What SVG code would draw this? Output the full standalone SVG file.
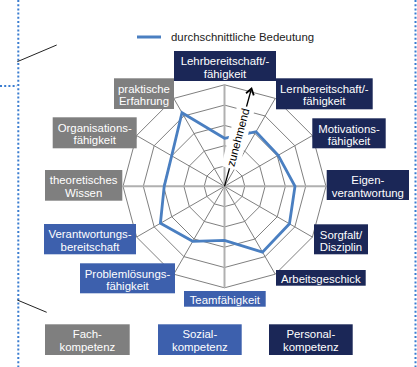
<svg xmlns="http://www.w3.org/2000/svg" width="417" height="367" viewBox="0 0 417 367">
<defs>
<style>
text{font-family:"Liberation Sans",Arial,sans-serif;font-size:11.4px;fill:#fff;text-anchor:middle}
.navy{fill:#1b2757}
.blue{fill:#3d60ad}
.gray{fill:#7f7f7f}
.ring{fill:none;stroke:#808080;stroke-width:1}
.spoke{stroke:#808080;stroke-width:1}
.axis{stroke:#b0b0b0;stroke-width:2}
.dot{stroke:#3b7dd0;stroke-width:2;stroke-dasharray:2 2.2;fill:none}
.thin{stroke:#222;stroke-width:1}
</style>
<marker id="ah" markerWidth="10" markerHeight="10" refX="7" refY="5" orient="auto" markerUnits="userSpaceOnUse">
<path d="M1,1 L7,5 L1,9" fill="none" stroke="#000" stroke-width="1.8"/>
</marker>
</defs>
<rect width="417" height="367" fill="#fff"/>
<g id="frame">
<line class="dot" x1="18.3" y1="0" x2="18.3" y2="367"/>
<line class="dot" x1="0" y1="86" x2="17" y2="86"/>
<line class="dot" x1="415.5" y1="0" x2="415.5" y2="367"/>
<line class="thin" x1="17.3" y1="61.7" x2="56.7" y2="45"/>
<line class="thin" x1="17.3" y1="300" x2="46.7" y2="312.3"/>
</g>
<g id="legend">
<line x1="137" y1="37" x2="161" y2="37" stroke="#4a7fc1" stroke-width="3"/>
<text x="171" y="40.5" style="fill:#222;text-anchor:start">durchschnittliche Bedeutung</text>
</g>
<g id="grid" transform="translate(224.5,186.3)">
<line class="spoke" x1="0" y1="0" x2="50.75" y2="-87.9"/>
<line class="spoke" x1="0" y1="0" x2="87.9" y2="-50.75"/>
<line class="spoke" x1="0" y1="0" x2="87.9" y2="50.75"/>
<line class="spoke" x1="0" y1="0" x2="50.75" y2="87.9"/>
<line class="spoke" x1="0" y1="0" x2="-50.75" y2="87.9"/>
<line class="spoke" x1="0" y1="0" x2="-87.9" y2="50.75"/>
<line class="spoke" x1="0" y1="0" x2="-87.9" y2="-50.75"/>
<line class="spoke" x1="0" y1="0" x2="-50.75" y2="-87.9"/>
<polygon class="ring" points="0,-101.5 50.75,-87.9 87.9,-50.75 101.5,0 87.9,50.75 50.75,87.9 0,101.5 -50.75,87.9 -87.9,50.75 -101.5,0 -87.9,-50.75 -50.75,-87.9"/>
<polygon class="ring" points="0,-81.2 40.6,-70.32 70.32,-40.6 81.2,0 70.32,40.6 40.6,70.32 0,81.2 -40.6,70.32 -70.32,40.6 -81.2,0 -70.32,-40.6 -40.6,-70.32"/>
<polygon class="ring" points="0,-60.9 30.45,-52.74 52.74,-30.45 60.9,0 52.74,30.45 30.45,52.74 0,60.9 -30.45,52.74 -52.74,30.45 -60.9,0 -52.74,-30.45 -30.45,-52.74"/>
<polygon class="ring" points="0,-40.6 20.3,-35.16 35.16,-20.3 40.6,0 35.16,20.3 20.3,35.16 0,40.6 -20.3,35.16 -35.16,20.3 -40.6,0 -35.16,-20.3 -20.3,-35.16"/>
<polygon class="ring" points="0,-20.3 10.15,-17.58 17.58,-10.15 20.3,0 17.58,10.15 10.15,17.58 0,20.3 -10.15,17.58 -17.58,10.15 -20.3,0 -17.58,-10.15 -10.15,-17.58"/>
<line class="axis" x1="0" y1="-101.5" x2="0" y2="101.5"/>
<line class="axis" x1="-101.5" y1="0" x2="101.5" y2="0"/>
<polygon id="series" points="0,-48 31.5,-54.56 53.69,-31 70.5,0 64.95,37.5 38,65.82 0,54 -31.75,54.99 -64.08,37 -60.3,0 -52.83,-30.5 -42.5,-73.61" fill="none" stroke="#4a7fc1" stroke-width="2.8"/>
</g>
<g id="connectors">
<line x1="224.5" y1="186.3" x2="251.5" y2="88.5" stroke="#000" stroke-width="1.3" marker-end="url(#ah)"/>
<g transform="translate(238,137.4) rotate(-75)">
<rect x="-32" y="-9" width="64" height="18" fill="#fff"/>
<text x="0" y="4" style="fill:#000">zunehmend</text>
</g>
</g>
<g id="n-lehr"><rect class="navy" x="174" y="51" width="102" height="30"/><text x="225" y="65.2">Lehrbereitschaft/-</text><text x="225" y="77.7">fähigkeit</text></g>
<g id="n-lern"><rect class="navy" x="276" y="78.3" width="96.7" height="31"/><text x="324.3" y="92.5">Lernbereitschaft/-</text><text x="324.3" y="105">fähigkeit</text></g>
<g id="n-motiv"><rect class="navy" x="312.3" y="118.3" width="73.4" height="30"/><text x="349" y="132.5">Motivations-</text><text x="349" y="145">fähigkeit</text></g>
<g id="n-eigen"><rect class="navy" x="326.7" y="170" width="82.3" height="30"/><text x="367.8" y="184.2">Eigen-</text><text x="367.8" y="196.7">verantwortung</text></g>
<g id="n-sorg"><rect class="navy" x="314" y="224.3" width="54" height="30"/><text x="341" y="238.5">Sorgfalt/</text><text x="341" y="251">Disziplin</text></g>
<g id="n-arbeit"><rect class="navy" x="276" y="270" width="89.7" height="15.7"/><text x="320.8" y="283">Arbeitsgeschick</text></g>
<g id="n-team"><rect class="blue" x="184" y="291" width="81.7" height="15.7"/><text x="224.8" y="303.5">Teamfähigkeit</text></g>
<g id="n-problem"><rect class="blue" x="80" y="263.3" width="95" height="30"/><text x="127.5" y="277.5">Problemlösungs-</text><text x="127.5" y="290">fähigkeit</text></g>
<g id="n-verant"><rect class="blue" x="44" y="224" width="92" height="30.3"/><text x="90" y="238.2">Verantwortungs-</text><text x="90" y="250.7">bereitschaft</text></g>
<g id="n-theor"><rect class="gray" x="45" y="170" width="77.3" height="30.7"/><text x="83.6" y="184.2">theoretisches</text><text x="83.6" y="196.7">Wissen</text></g>
<g id="n-organ"><rect class="gray" x="52.7" y="117.3" width="84" height="31"/><text x="94.7" y="131.5">Organisations-</text><text x="94.7" y="144">fähigkeit</text></g>
<g id="n-prakt"><rect class="gray" x="114" y="78.3" width="60" height="30.7"/><text x="144" y="92.5">praktische</text><text x="144" y="105">Erfahrung</text></g>
<g id="k-fach"><rect class="gray" x="45" y="324.3" width="84.7" height="30.7"/><text x="87.3" y="338">Fach-</text><text x="87.3" y="350.5">kompetenz</text></g>
<g id="k-sozial"><rect class="blue" x="158" y="324.3" width="83.7" height="30.7"/><text x="199.8" y="338">Sozial-</text><text x="199.8" y="350.5">kompetenz</text></g>
<g id="k-personal"><rect class="navy" x="269" y="324.3" width="83.7" height="30.7"/><text x="310.8" y="338">Personal-</text><text x="310.8" y="350.5">kompetenz</text></g>
</svg>
